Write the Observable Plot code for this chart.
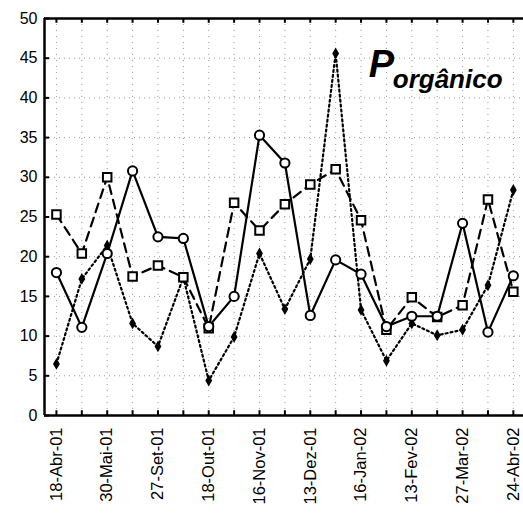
<!DOCTYPE html>
<html>
<head>
<meta charset="utf-8">
<script src="https://cdn.jsdelivr.net/npm/d3@7"></script>
<script src="https://cdn.jsdelivr.net/npm/@observablehq/plot@0.6"></script>
<style>
  html, body { margin: 0; padding: 0; background: #fff; }
  svg { font-family: "Liberation Sans", Arial, sans-serif; }
</style>
</head>
<body>
<div id="chart"></div>
<script>
// 19 sampling dates; only every other one is labelled on the axis
const dateLabels = ["18-Abr-01", "", "30-Mai-01", "", "27-Set-01", "", "18-Out-01", "", "16-Nov-01", "",
                    "13-Dez-01", "", "16-Jan-02", "", "13-Fev-02", "", "27-Mar-02", "", "24-Abr-02"];
const circleSeries  = [18.0, 11.1, 20.4, 30.8, 22.5, 22.3, 11.2, 15.0, 35.3, 31.8, 12.6, 19.6, 17.8, 11.2, 12.5, 12.5, 24.2, 10.5, 17.6];
const squareSeries  = [25.3, 20.4, 30.0, 17.5, 18.9, 17.4, 11.0, 26.8, 23.3, 26.6, 29.1, 31.0, 24.6, 10.8, 14.9, 12.4, 13.9, 27.2, 15.6];
const diamondSeries = [6.5, 17.2, 21.4, 11.6, 8.7, 17.4, 4.4, 9.9, 20.4, 13.4, 19.7, 45.6, 13.3, 6.9, 11.6, 10.1, 10.8, 16.4, 28.4];
const yTicks = [0, 5, 10, 15, 20, 25, 30, 35, 40, 45, 50];
const titleMain = "P";
const titleSub = "orgânico";

const idx = dateLabels.map((_, i) => i);
const toRows = (vals) => vals.map((v, i) => ({i, v}));
const circ = toRows(circleSeries), sq = toRows(squareSeries), dia = toRows(diamondSeries);
const xMin = -0.47, xMax = 18.4;

const chart = Plot.plot({
  width: 523,
  height: 516,
  marginLeft: 44,
  marginRight: 0,
  marginTop: 18,
  marginBottom: 101,
  style: {background: "#fff", fontFamily: "'Liberation Sans', Arial, sans-serif"},
  x: {domain: [xMin, xMax]},
  y: {domain: [0, 50]},
  marks: [
    // dotted grid
    Plot.ruleY(yTicks.filter(d => d > 0 && d < 50), {stroke: "#999", strokeWidth: 1, strokeDasharray: "1,4"}),
    Plot.ruleX(idx, {stroke: "#999", strokeWidth: 1, strokeDasharray: "1,5"}),
    // frame
    Plot.ruleX([xMin], {stroke: "#000", strokeWidth: 2.5}),
    Plot.ruleY([0], {stroke: "#000", strokeWidth: 2.5}),
    Plot.ruleY([50], {stroke: "#000", strokeWidth: 2.5}),
    // inward ticks
    Plot.ruleY(yTicks, {x1: xMin, x2: xMin + 0.2, stroke: "#000", strokeWidth: 2}),
    Plot.ruleX(idx, {y1: 0, y2: 0.6, stroke: "#000", strokeWidth: 2}),
    Plot.ruleX(idx, {y1: 50, y2: 49.4, stroke: "#000", strokeWidth: 2}),
    // axes
    Plot.axisY({ticks: yTicks, tickSize: 0, tickPadding: 7, label: null, fontSize: 16, fill: "#000"}),
    Plot.axisX({ticks: idx.filter(i => i % 2 === 0), tickSize: 0, tickPadding: 12, tickRotate: -90,
                tickFormat: i => dateLabels[i], label: null, fontSize: 16.5, fill: "#000"}),
    // lines
    Plot.line(dia, {x: "i", y: "v", stroke: "#000", strokeWidth: 2.2, strokeDasharray: "2,3"}),
    Plot.line(sq, {x: "i", y: "v", stroke: "#000", strokeWidth: 2.2, strokeDasharray: "9,6"}),
    Plot.line(circ, {x: "i", y: "v", stroke: "#000", strokeWidth: 2.2}),
    // markers
    Plot.dot(dia, {x: "i", y: "v", symbol: "diamond", r: 3.6, fill: "#000", stroke: "none"}),
    Plot.dot(sq, {x: "i", y: "v", symbol: "square", r: 4.8, fill: "#fff", stroke: "#000", strokeWidth: 2}),
    Plot.dot(circ, {x: "i", y: "v", symbol: "circle", r: 4.6, fill: "#fff", stroke: "#000", strokeWidth: 2}),
    // title
    Plot.text([titleMain], {x: 12.3, y: 42.6, text: d => d, textAnchor: "start", lineAnchor: "bottom",
                            fontSize: 38, fontWeight: "bold", fontStyle: "italic", fill: "#000"}),
    Plot.text([titleSub], {x: 13.25, y: 41.2, text: d => d, textAnchor: "start", lineAnchor: "bottom",
                           fontSize: 26, fontWeight: "bold", fontStyle: "italic", fill: "#000"})
  ]
});
document.getElementById("chart").appendChild(chart);
</script>
</body>
</html>
